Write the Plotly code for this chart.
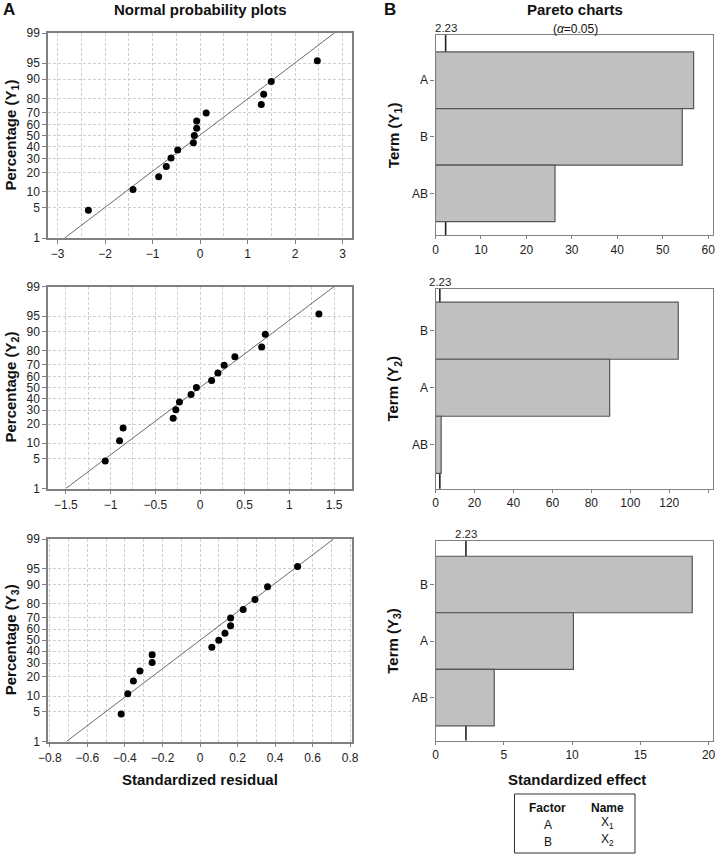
import plotly.graph_objects as go
from statistics import NormalDist

# ---------------- data ----------------
prob_pct = [4.5, 11.0, 17.5, 24.0, 30.5, 37.0, 43.5, 50.0, 56.5, 63.0, 69.5, 76.0, 82.5, 89.0, 95.5]
resid_y1 = [-2.35, -1.41, -0.87, -0.71, -0.61, -0.47, -0.14, -0.12, -0.07, -0.07, 0.13, 1.29, 1.34, 1.50, 2.47]
resid_y2 = [-1.06, -0.90, -0.86, -0.30, -0.27, -0.23, -0.10, -0.04, 0.13, 0.20, 0.27, 0.39, 0.69, 0.73, 1.33]
resid_y3 = [-0.42, -0.385, -0.355, -0.32, -0.255, -0.255, 0.063, 0.10, 0.133, 0.163, 0.163, 0.23, 0.293, 0.36, 0.52]
fit_mu = [-0.01, 0.0, 0.0]
fit_sigma = [1.22, 0.645, 0.306]
prob_ticks = [1, 5, 10, 20, 30, 40, 50, 60, 70, 80, 90, 95, 99]

terms_y1 = ["A", "B", "AB"]
effect_y1 = [56.8, 54.3, 26.3]
terms_y2 = ["B", "A", "AB"]
effect_y2 = [124.6, 89.4, 2.9]
terms_y3 = ["B", "A", "AB"]
effect_y3 = [18.8, 10.1, 4.3]
t_crit = 2.23

factor_codes = ["A", "B"]
factor_names = ["X<sub>1</sub>", "X<sub>2</sub>"]

# ---------------- helpers ----------------
W, H = 718, 854
nd = NormalDist()
FONT = "Liberation Sans, Arial, sans-serif"
TXT = "#222222"
AXC = "#808080"
GRID = "#cfcfcf"


def z(p):
    return nd.inv_cdf(p / 100.0)


def xd(px0, px1):
    return [px0 / W, px1 / W]


def yd(top, bot):
    return [1 - bot / H, 1 - top / H]


fig = go.Figure()

left_x = xd(48, 352)
left_y = [yd(33, 238), yd(286.5, 488.5), yd(539, 741.5)]
left_resid = [resid_y1, resid_y2, resid_y3]
left_range = [[-3.2, 3.2], [-1.7, 1.7], [-0.81, 0.81]]
left_dtick = [1, 0.5, 0.2]
left_minor = [0.5, 0.25, 0.1]

zlo, zhi = z(1), z(99)

for i in range(3):
    n = i + 1
    xa = "x" if n == 1 else f"x{n}"
    ya = "y" if n == 1 else f"y{n}"
    # fitted line
    fig.add_trace(go.Scatter(
        x=[fit_mu[i] + fit_sigma[i] * zlo, fit_mu[i] + fit_sigma[i] * zhi],
        y=[zlo, zhi], mode="lines", line=dict(color="#6a6a6a", width=1),
        xaxis=xa, yaxis=ya, showlegend=False, hoverinfo="skip", cliponaxis=True))
    fig.add_trace(go.Scatter(
        x=left_resid[i], y=[z(p) for p in prob_pct], mode="markers",
        marker=dict(color="black", size=7), xaxis=xa, yaxis=ya, showlegend=False))
    xkey = "xaxis" if n == 1 else f"xaxis{n}"
    ykey = "yaxis" if n == 1 else f"yaxis{n}"
    fig.update_layout(**{
        xkey: dict(domain=left_x, anchor=ya, range=left_range[i], dtick=left_dtick[i], tick0=0,
                   automargin=False,
                   showline=True, mirror=True, linecolor=AXC, linewidth=1.5,
                   ticks="outside", ticklen=4, tickcolor=AXC,
                   showgrid=True, gridcolor=GRID, griddash="3px,2px", gridwidth=1,
                   minor=dict(dtick=left_minor[i], tick0=0, showgrid=True, gridcolor=GRID,
                              griddash="3px,2px", gridwidth=1, ticks=""),
                   zeroline=False, tickfont=dict(size=12, color=TXT, family=FONT)),
        ykey: dict(domain=left_y[i], anchor=xa, range=[zlo, zhi], automargin=False,
                   tickvals=[z(p) for p in prob_ticks], ticktext=[str(p) for p in prob_ticks],
                   showline=True, mirror=True, linecolor=AXC, linewidth=1.5,
                   ticks="outside", ticklen=4, tickcolor=AXC,
                   showgrid=True, gridcolor=GRID, griddash="3px,2px", gridwidth=1,
                   zeroline=False, tickfont=dict(size=12, color=TXT, family=FONT)),
    })

# ---------------- Pareto charts ----------------
right_x = xd(435.5, 712.7)
right_y = [yd(35, 235.3), yd(288.5, 488.7), yd(541, 740.5)]
right_terms = [terms_y1, terms_y2, terms_y3]
right_eff = [effect_y1, effect_y2, effect_y3]
right_xrange = [[0, 61], [0, 142.3], [0, 20.3]]
right_yrange = [[-0.74, 2.8], [-0.77, 2.74], [-0.76, 2.77]]
right_dtick = [10, 20, 5]

for i in range(3):
    n = i + 4
    xa, ya = f"x{n}", f"y{n}"
    fig.add_trace(go.Bar(
        x=right_eff[i], y=right_terms[i], orientation="h", width=1,
        marker=dict(color="#c0c0c0", line=dict(color="#555555", width=1.2)),
        xaxis=xa, yaxis=ya, showlegend=False))
    fig.update_layout(**{
        f"xaxis{n}": dict(domain=right_x, anchor=ya, range=right_xrange[i], dtick=right_dtick[i], tick0=0,
                          automargin=False,
                          showline=True, mirror=True, linecolor=AXC, linewidth=1.3,
                          ticks="outside", ticklen=3, tickcolor=AXC, showgrid=False, zeroline=False,
                          tickfont=dict(size=12, color=TXT, family=FONT)),
        f"yaxis{n}": dict(domain=right_y[i], anchor=xa, type="category", automargin=False,
                          categoryorder="array", categoryarray=list(reversed(right_terms[i])),
                          range=right_yrange[i],
                          showline=True, mirror=True, linecolor=AXC, linewidth=1.3,
                          ticks="outside", ticklen=4, tickcolor=AXC, showgrid=False, zeroline=False,
                          tickfont=dict(size=12, color=TXT, family=FONT)),
    })
    fig.add_shape(type="line", xref=xa, yref=f"{ya} domain", x0=t_crit, x1=t_crit, y0=0, y1=1,
                  layer="below", line=dict(color="#222222", width=1.6))
    fig.add_annotation(xref=xa, yref=f"{ya} domain", x=t_crit, y=1, yanchor="bottom", yshift=-1,
                       text=f"{t_crit:.2f}", showarrow=False,
                       font=dict(size=11.5, color=TXT, family=FONT))

# ---------------- text annotations ----------------
def ann(x, y, text, size=12, bold=False, angle=0, anchor="center"):
    fig.add_annotation(xref="paper", yref="paper", x=x / W, y=1 - y / H, text=f"<b>{text}</b>" if bold else text,
                       showarrow=False, textangle=angle, xanchor=anchor, yanchor="middle",
                       font=dict(size=size, color="#111111", family=FONT))


ann(9, 9.5, "A", size=17, bold=True)
ann(390, 9.5, "B", size=17, bold=True)
ann(200, 9.5, "Normal probability plots", size=15, bold=True)
ann(575, 9.5, "Pareto charts", size=15, bold=True)
ann(575, 29, "(<i>α</i>=0.05)", size=12)

for i, (top, bot) in enumerate([(33, 238), (286.5, 488.5), (539, 741.5)]):
    ann(11, (top + bot) / 2, f"Percentage (Y<sub>{i + 1}</sub>)", size=15, bold=True, angle=-90)
for i, (top, bot) in enumerate([(35, 235.3), (288.5, 488.7), (541, 740.5)]):
    ann(394, (top + bot) / 2, f"Term (Y<sub>{i + 1}</sub>)", size=15, bold=True, angle=-90)

ann(200, 779, "Standardized residual", size=15, bold=True)
ann(576.5, 779, "Standardized effect", size=15, bold=True)

# legend table
fig.add_shape(type="rect", xref="paper", yref="paper", x0=514.5 / W, x1=635 / W,
              y0=1 - 853 / H, y1=1 - 794 / H, line=dict(color="#333333", width=1))
ann(547.7, 807.7, "Factor", size=12, bold=True)
ann(607.3, 807.7, "Name", size=12, bold=True)
for j, (code, name) in enumerate(zip(factor_codes, factor_names)):
    ann(547.7, 824.5 + j * 17, code, size=12)
    ann(607.3, 822.5 + j * 17.5, name, size=12)

fig.update_layout(width=W, height=H, margin=dict(l=0, r=0, t=0, b=0, autoexpand=False),
                  paper_bgcolor="white", plot_bgcolor="white",
                  font=dict(family=FONT, color=TXT), showlegend=False)

fig.write_html("out.html", config={"displayModeBar": False},
               post_script="document.body.style.margin='0';document.body.style.overflow='hidden';")
